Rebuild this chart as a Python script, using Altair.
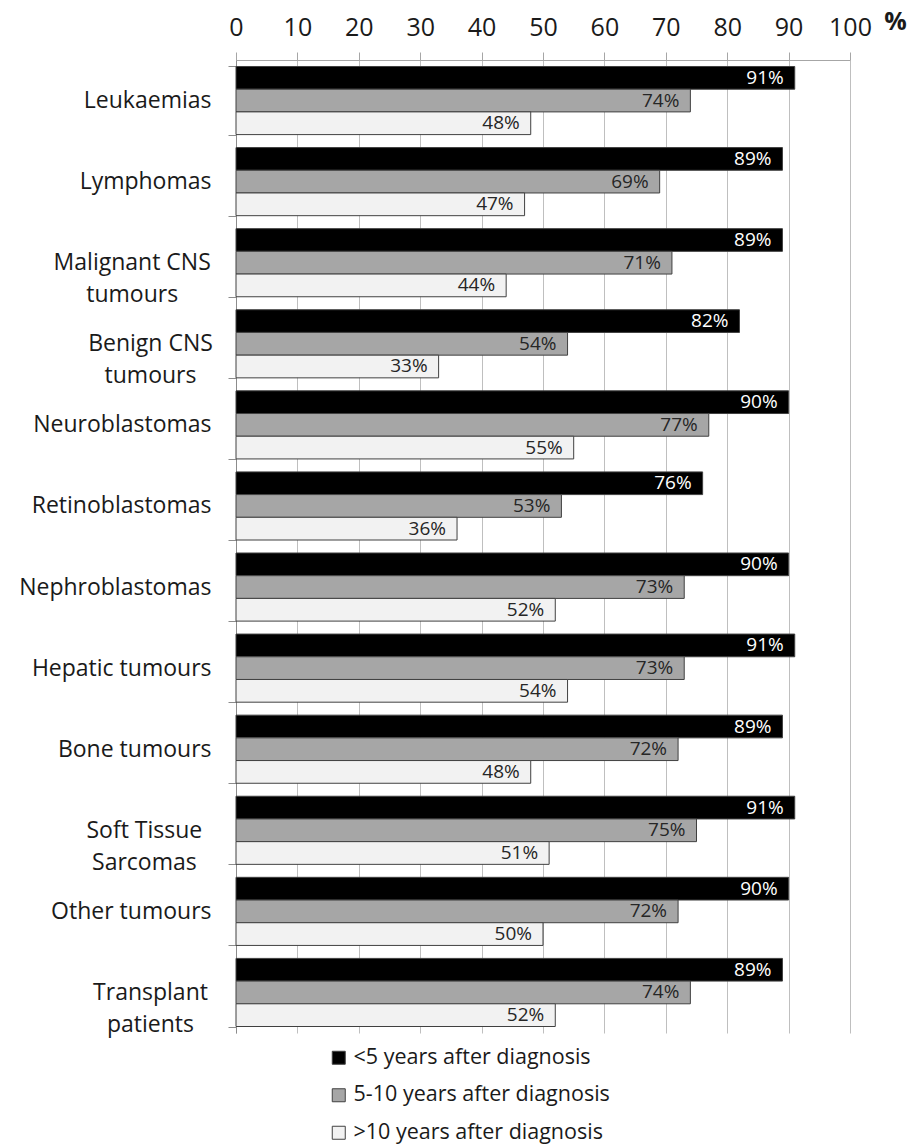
import altair as alt
import pandas as pd

# Survivors by diagnosis group, share (%) by time since diagnosis
groups = [
    "Leukaemias",
    "Lymphomas",
    "Malignant CNS\ntumours",
    "Benign CNS\ntumours",
    "Neuroblastomas",
    "Retinoblastomas",
    "Nephroblastomas",
    "Hepatic tumours",
    "Bone tumours",
    "Soft Tissue\nSarcomas",
    "Other tumours",
    "Transplant\npatients",
]
periods = [
    "<5 years after diagnosis",
    "5-10 years after diagnosis",
    ">10 years after diagnosis",
]
under_5 = [91, 89, 89, 82, 90, 76, 90, 91, 89, 91, 90, 89]
from_5_to_10 = [74, 69, 71, 54, 77, 53, 73, 73, 72, 75, 72, 74]
over_10 = [48, 47, 44, 33, 55, 36, 52, 54, 48, 51, 50, 52]
x_ticks = list(range(0, 101, 10))

colors = ["#000000", "#a6a6a6", "#f2f2f2"]
FONT = "Open Sans"
INK = "#1a1a1a"

rows = []
for series, values in zip(periods, [under_5, from_5_to_10, over_10]):
    for g, v in zip(groups, values):
        rows.append({"group": g, "period": series, "pct": v, "label": f"{v}%"})
df = pd.DataFrame(rows)

# multi-line group names: centre the lines, right-align single-line names
align_expr = "indexof(datum.label, '\\n') >= 0 ? 'center' : 'right'"
pad_expr = ("indexof(datum.label, '\\n') >= 0 ? "
            "17 + 6.1 * length(split(datum.label, '\\n')[0]) : 17")

base = alt.Chart(df).encode(
    y=alt.Y(
        "group:N",
        sort=groups,
        title=None,
        scale=alt.Scale(paddingInner=0.16, paddingOuter=0.08),
        axis=alt.Axis(
            labelExpr="split(datum.label, '\\n')",
            labelAlign=alt.ExprRef(expr=align_expr),
            labelPadding=alt.ExprRef(expr=pad_expr),
            labelBaseline="middle",
            labelLineHeight=32,
            labelFont=FONT,
            labelFontSize=23,
            labelColor=INK,
            labelLimit=400,
            tickBand="extent",
            tickSize=8,
            tickColor="#8c8c8c",
            domainColor="#8c8c8c",
            grid=False,
        ),
    ),
    yOffset=alt.YOffset(
        "period:N", sort=periods, scale=alt.Scale(paddingInner=0, paddingOuter=0)
    ),
)

bars = base.mark_bar(stroke="#404040", strokeWidth=1).encode(
    x=alt.X(
        "pct:Q",
        scale=alt.Scale(domain=[0, 100], nice=False),
        title="%",
        axis=alt.Axis(
            orient="top",
            values=x_ticks,
            labelFont=FONT,
            labelFontSize=25,
            labelColor=INK,
            labelPadding=12,
            labelFlush=False,
            tickSize=8,
            tickColor="#a6a6a6",
            domainColor="#a6a6a6",
            gridColor="#bfbfbf",
            gridWidth=1,
            titleFont=FONT,
            titleFontSize=25,
            titleFontWeight="bold",
            titleColor=INK,
            titleAngle=0,
            titleAlign="center",
            titleBaseline="middle",
            titleX=659,
            titleY=-39,
        ),
    ),
    color=alt.Color(
        "period:N",
        sort=periods,
        scale=alt.Scale(domain=periods, range=colors),
        legend=alt.Legend(
            title=None,
            orient="none",
            legendX=92,
            legendY=987,
            direction="vertical",
            symbolType="square",
            symbolSize=169,
            symbolStrokeColor="#404040",
            symbolStrokeWidth=1,
            labelFont=FONT,
            labelFontSize=21.5,
            labelColor=INK,
            labelLimit=500,
            labelOffset=4,
            rowPadding=14.5,
        ),
    ),
)

labels = base.mark_text(
    align="right", baseline="middle", dx=-11, font=FONT, fontSize=19
).encode(
    x=alt.X("pct:Q"),
    text=alt.Text("label:N"),
    color=alt.condition(
        alt.datum.period == periods[0], alt.value("#ffffff"), alt.value("#262626")
    ),
)

chart = (
    alt.layer(bars, labels)
    .properties(
        width=614,
        height=973,
        autosize=alt.AutoSizeParams(type="none"),
        padding={"left": 236, "top": 60, "right": 57, "bottom": 111},
        background="#ffffff",
    )
    .configure_view(strokeWidth=0)
)

chart.save("out.html", embed_options={"renderer": "svg", "actions": False})
